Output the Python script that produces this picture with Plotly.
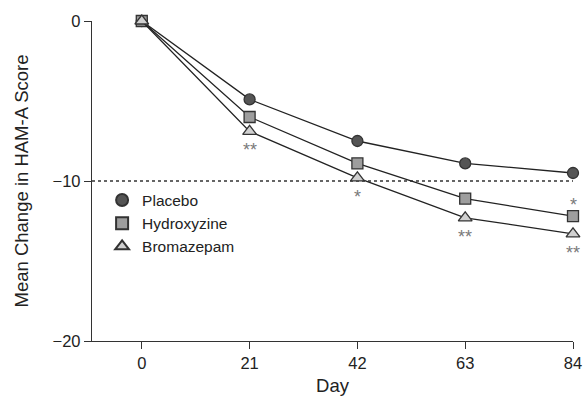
import plotly.graph_objects as go

days = [0, 21, 42, 63, 84]
placebo = [0, -4.9, -7.5, -8.9, -9.5]
hydroxyzine = [0, -6.0, -8.9, -11.1, -12.2]
bromazepam = [0, -6.9, -9.8, -12.3, -13.3]
x_ticks = [0, 21, 42, 63, 84]
y_ticks = [0, -10, -20]

# significance marks: (day, value of reference marker, text, above?)
sig_day = [21, 42, 63, 84, 84]
sig_val = [-6.9, -9.8, -12.3, -13.3, -12.2]
sig_text = ["**", "*", "**", "**", "*"]
sig_above = [False, False, False, False, True]

FONT = "Liberation Sans, Arial, Helvetica, sans-serif"

series = [
    ("Placebo", placebo, "circle", "#555555", 11),
    ("Hydroxyzine", hydroxyzine, "square", "#9e9e9e", 11),
    ("Bromazepam", bromazepam, "triangle-up", "#d0d0d0", 12),
]

fig = go.Figure()
for name, vals, sym, col, sz in series:
    fig.add_trace(go.Scatter(
        x=days, y=vals, mode="lines+markers", showlegend=False,
        line=dict(color="#222222", width=1.3),
        marker=dict(symbol=sym, size=sz, color=col, line=dict(color="#333333", width=1.3)),
        cliponaxis=False,
    ))
for name, vals, sym, col, sz in series:
    fig.add_trace(go.Scatter(
        x=[None], y=[None], mode="markers", name=name,
        marker=dict(symbol=sym, size=sz, color=col, line=dict(color="#333333", width=1.3)),
    ))

fig.add_shape(type="line", x0=-9.7, x1=84, y0=-10, y1=-10, xref="x", yref="y",
              line=dict(color="#333333", width=1.5, dash="dot"), layer="below")

for d, v, t, above in zip(sig_day, sig_val, sig_text, sig_above):
    fig.add_annotation(x=d, y=v, text=t, showarrow=False,
                       yshift=11 if above else -19,
                       font=dict(size=18, color="#7a7a7a", family=FONT))

fig.update_layout(
    width=586, height=398,
    margin=dict(l=92, r=13, t=21, b=57),
    paper_bgcolor="white", plot_bgcolor="white",
    font=dict(family=FONT, size=16, color="#222222"),
    showlegend=True,
    legend=dict(x=0.021, y=0.4925, xanchor="left", yanchor="top",
                font=dict(size=15.5, color="#222222"), bgcolor="rgba(0,0,0,0)",
                tracegroupgap=0, itemsizing="constant"),
    xaxis=dict(range=[-9.7, 84], tickvals=x_ticks, ticktext=[str(v) for v in x_ticks],
               showgrid=False, zeroline=False, showline=True, linecolor="#333333",
               linewidth=1.3, ticks="outside", ticklen=7, tickcolor="#333333",
               tickwidth=1.3, tickfont=dict(size=16.5), automargin=False,
               title=dict(text="Day", font=dict(size=18.5), standoff=8)),
    yaxis=dict(range=[-20, 0], tickvals=y_ticks, ticktext=["0", "\u221210", "\u221220"],
               showgrid=False, zeroline=False, showline=True, linecolor="#333333",
               linewidth=1.3, ticks="outside", ticklen=7, tickcolor="#333333",
               tickwidth=1.3, tickfont=dict(size=16.5), automargin=False,
               title=dict(text="Mean Change in HAM-A Score", font=dict(size=18.5), standoff=19)),
)

fig.write_html("out.html", config={"displayModeBar": False},
               post_script="document.body.style.margin='0';document.body.style.padding='0';")
